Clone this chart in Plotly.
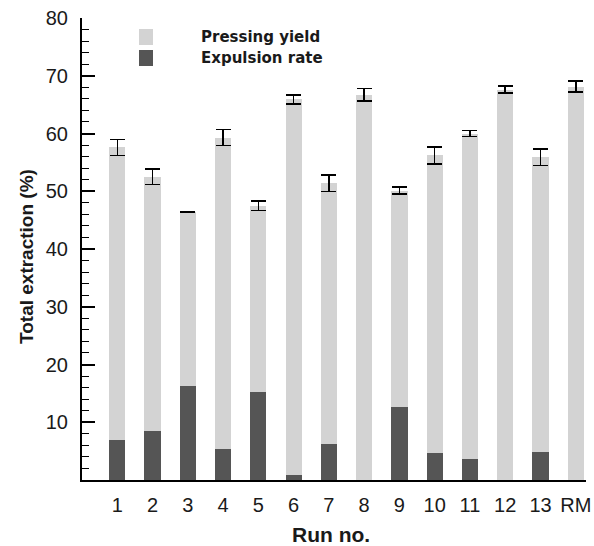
import plotly.graph_objects as go

runs = ["1", "2", "3", "4", "5", "6", "7", "8", "9", "10", "11", "12", "13", "RM"]
total_extraction = [57.6, 52.5, 46.4, 59.3, 47.5, 65.9, 51.4, 66.7, 50.1, 56.2, 60.0, 67.6, 55.9, 68.1]
expulsion_rate = [7.0, 8.5, 16.3, 5.4, 15.3, 0.95, 6.3, 0.0, 12.7, 4.6, 3.6, 0.0, 4.8, 0.0]
total_error = [1.4, 1.35, 0.1, 1.4, 0.8, 0.75, 1.45, 1.1, 0.6, 1.45, 0.5, 0.6, 1.45, 0.95]
pressing_yield = [round(t - e, 2) for t, e in zip(total_extraction, expulsion_rate)]

LIGHT = "#d3d3d3"
DARK = "#555555"

fig = go.Figure()
fig.add_trace(go.Bar(x=runs, y=expulsion_rate, name="Expulsion rate",
                     marker=dict(color=DARK, line=dict(width=0))))
fig.add_trace(go.Bar(x=runs, y=pressing_yield, name="Pressing yield",
                     marker=dict(color=LIGHT, line=dict(width=0)),
                     error_y=dict(type="data", array=total_error, color="black",
                                  thickness=1.5, width=7.5)))

L, R, T, B = 82, 8, 18, 66
W, H = 594, 546
PW, PH = W - L - R, H - T - B

fig.update_layout(
    width=W, height=H,
    barmode="stack", bargap=0.54,
    showlegend=False,
    plot_bgcolor="white", paper_bgcolor="white",
    margin=dict(l=L, r=R, t=T, b=B),
    font=dict(family="Liberation Sans, Arial, sans-serif", color="#1a1a1a"),
)
fig.update_xaxes(
    type="category", range=[-1, 13.29], automargin=False,
    showline=True, linecolor="black", linewidth=2,
    ticks="", showgrid=False, zeroline=False,
    tickfont=dict(size=20), ticklabelstandoff=6,
)
fig.update_yaxes(
    range=[0, 80], tickmode="array", tickvals=[10, 20, 30, 40, 50, 60, 70, 80],
    automargin=False,
    showline=True, linecolor="black", linewidth=2,
    ticks="inside", ticklen=13, tickwidth=2, tickcolor="black",
    minor=dict(tickmode="linear", tick0=0, dtick=2, ticks="inside", ticklen=7,
               tickwidth=1.3, tickcolor="black", showgrid=False),
    showgrid=False, zeroline=False,
    tickfont=dict(size=20), ticklabelstandoff=8,
)


def px_x(x):
    return (x - L) / PW


def px_y(y):
    return (H - B - y) / PH


# axis titles
fig.add_annotation(text="<b>Total extraction (%)</b>", xref="paper", yref="paper",
                   x=px_x(26), y=px_y(257), xanchor="center", yanchor="middle", textangle=-90,
                   showarrow=False, font=dict(size=19, color="#1a1a1a"))
fig.add_annotation(text="<b>Run no.</b>", xref="paper", yref="paper",
                   x=px_x(331), y=px_y(534), xanchor="center", yanchor="middle",
                   showarrow=False, font=dict(size=21, color="#1a1a1a"))

# legend (manual)
legend_items = [("Pressing yield", LIGHT, 29), ("Expulsion rate", DARK, 50)]
for label, col, ytop in legend_items:
    fig.add_shape(type="rect", xref="paper", yref="paper",
                  x0=px_x(139), x1=px_x(153), y0=px_y(ytop + 16), y1=px_y(ytop),
                  fillcolor=col, line=dict(width=0))
    fig.add_annotation(text=f"<b>{label}</b>", xref="paper", yref="paper",
                       x=px_x(199), y=px_y(ytop + 8),
                       xanchor="left", yanchor="middle", showarrow=False,
                       font=dict(family="DejaVu Sans, sans-serif", size=15, color="#1a1a1a"))

fig.write_html("out.html", config={"displayModeBar": False},
               post_script="document.body.style.margin='0';")
